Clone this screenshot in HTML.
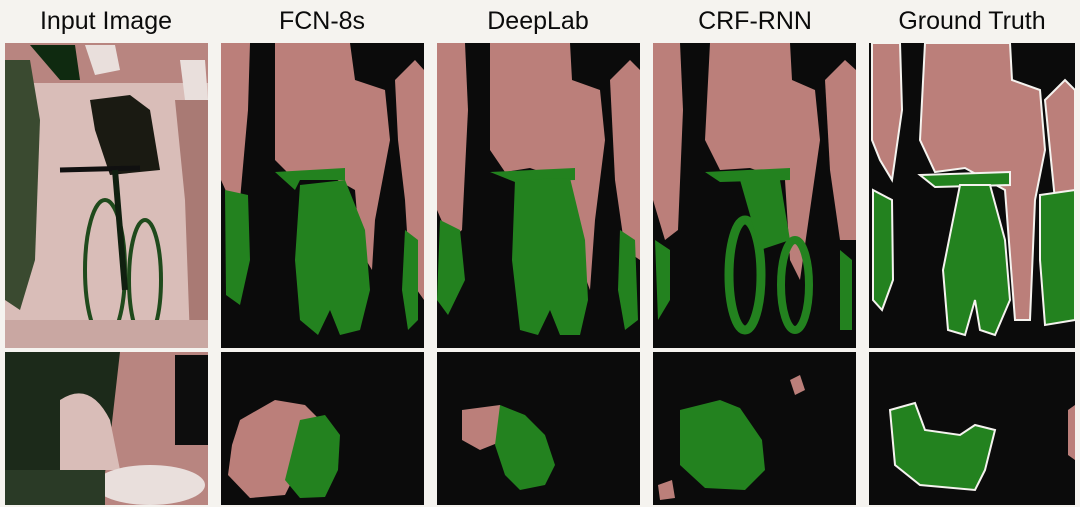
<!DOCTYPE html>
<html><head><meta charset="utf-8"><style>
html,body{margin:0;padding:0;background:#f5f3ef;}
svg{display:block;}
text{font-family:"Liberation Sans",sans-serif;font-size:25px;fill:#0b0b0b;}
</style></head><body>
<svg width="1080" height="507" viewBox="0 0 1080 507">
<rect width="1080" height="507" fill="#f5f3ef"/>
<g>
<text x="106" y="29" text-anchor="middle">Input Image</text>
<text x="322" y="29" text-anchor="middle">FCN-8s</text>
<text x="538" y="29" text-anchor="middle">DeepLab</text>
<text x="755" y="29" text-anchor="middle">CRF-RNN</text>
<text x="972" y="29" text-anchor="middle">Ground Truth</text>
</g>

<!-- Input image row 1 -->
<g>
<rect x="5" y="43" width="203" height="305" fill="#d9bdb8"/>
<rect x="5" y="43" width="203" height="40" fill="#b88580"/>
<path d="M30 45 L75 45 L80 80 L60 80 Z" fill="#0f2a10"/>
<path d="M5 60 L30 60 L40 120 L35 260 L20 310 L5 300 Z" fill="#3a4a30"/>
<path d="M90 100 L130 95 L150 110 L160 170 L110 175 L95 130 Z" fill="#1a1a12"/>
<path d="M85 45 L115 45 L120 70 L95 75 Z" fill="#e9dfdc"/>
<path d="M180 60 L205 60 L208 100 L185 100 Z" fill="#e9dfdc"/>
<path d="M175 100 L208 100 L208 340 L190 340 L185 200 Z" fill="#a97a74"/>
<ellipse cx="105" cy="270" rx="20" ry="70" fill="none" stroke="#1f4a1c" stroke-width="4"/>
<ellipse cx="145" cy="280" rx="16" ry="60" fill="none" stroke="#1f4a1c" stroke-width="4"/>
<path d="M60 170 L140 168" stroke="#101010" stroke-width="5"/>
<path d="M115 170 L125 290" stroke="#102010" stroke-width="6"/>
<rect x="5" y="320" width="203" height="28" fill="#c9a7a2"/>
</g>
<!-- Input image row 2 -->
<g>
<rect x="5" y="352" width="203" height="153" fill="#1c2a1a"/>
<path d="M120 352 L208 352 L208 505 L100 505 L110 440 Z" fill="#b88580"/>
<rect x="175" y="355" width="33" height="90" fill="#0d0d0d"/>
<path d="M60 400 Q90 380 110 420 L120 470 L60 470 Z" fill="#d9bdb8"/>
<ellipse cx="150" cy="485" rx="55" ry="20" fill="#e9dfdc"/>
<rect x="5" y="470" width="100" height="35" fill="#2a3a26"/>
</g>

<!-- FCN row1 -->
<g>
<rect x="221" y="43" width="203" height="305" fill="#0b0b0b"/>
<path d="M221 43 L250 43 L248 110 L240 200 L230 200 L221 180 Z" fill="#bb7f7a"/>
<path d="M275 43 L350 43 L355 80 L385 90 L390 140 L375 220 L372 270 L360 250 L355 190 L320 170 L290 175 L275 160 Z" fill="#bb7f7a"/>
<path d="M395 80 L415 60 L424 70 L424 300 L410 280 L405 200 L398 140 Z" fill="#bb7f7a"/>
<path d="M225 190 L248 195 L250 260 L240 305 L226 295 Z" fill="#23821f"/>
<path d="M275 172 L345 168 L345 180 L300 180 L295 190 Z" fill="#23821f"/>
<path d="M300 185 L345 180 L365 230 L370 290 L360 330 L340 335 L330 310 L318 335 L300 320 L295 260 Z" fill="#23821f"/>
<path d="M405 230 L418 240 L418 320 L408 330 L402 290 Z" fill="#23821f"/>
</g>
<!-- DeepLab row1 -->
<g>
<rect x="437" y="43" width="203" height="305" fill="#0b0b0b"/>
<path d="M437 43 L465 43 L468 110 L462 230 L450 240 L437 210 Z" fill="#bb7f7a"/>
<path d="M490 43 L570 43 L572 80 L600 90 L605 140 L595 220 L590 290 L575 250 L565 180 L530 168 L505 172 L490 150 Z" fill="#bb7f7a"/>
<path d="M610 80 L630 60 L640 70 L640 260 L625 250 L615 180 Z" fill="#bb7f7a"/>
<path d="M440 220 L460 230 L465 280 L448 315 L437 300 Z" fill="#23821f"/>
<path d="M490 172 L575 168 L575 180 L515 182 Z" fill="#23821f"/>
<path d="M515 180 L570 178 L585 240 L588 300 L580 335 L560 335 L550 310 L538 335 L520 330 L512 260 Z" fill="#23821f"/>
<path d="M620 230 L635 240 L638 320 L625 330 L618 290 Z" fill="#23821f"/>
</g>
<!-- CRF-RNN row1 -->
<g>
<rect x="653" y="43" width="203" height="305" fill="#0b0b0b"/>
<path d="M653 43 L680 43 L683 110 L678 230 L665 240 L653 200 Z" fill="#bb7f7a"/>
<path d="M710 43 L790 43 L792 80 L815 90 L820 140 L810 210 L800 280 L790 260 L785 180 L750 168 L720 170 L705 140 Z" fill="#bb7f7a"/>
<path d="M825 80 L845 60 L856 70 L856 240 L840 240 L830 170 Z" fill="#bb7f7a"/>
<path d="M705 172 L790 168 L790 180 L720 182 Z" fill="#23821f"/>
<ellipse cx="745" cy="275" rx="16" ry="55" fill="none" stroke="#23821f" stroke-width="9"/>
<ellipse cx="795" cy="285" rx="14" ry="45" fill="none" stroke="#23821f" stroke-width="8"/>
<path d="M740 180 L780 180 L790 240 L760 250 Z" fill="#23821f"/>
<path d="M655 240 L670 250 L670 300 L658 320 Z" fill="#23821f"/>
<path d="M840 250 L852 260 L852 330 L840 330 Z" fill="#23821f"/>
</g>
<!-- Ground truth row1 -->
<g>
<rect x="869" y="43" width="206" height="305" fill="#0b0b0b"/>
<path d="M872 43 L900 43 L902 110 L892 180 L880 160 L872 140 Z" fill="#bb7f7a" stroke="#f5f3ef" stroke-width="2"/>
<path d="M925 43 L1010 43 L1012 80 L1040 90 L1045 150 L1035 200 L1030 320 L1015 320 L1005 190 L965 168 L935 172 L920 140 Z" fill="#bb7f7a" stroke="#f5f3ef" stroke-width="2"/>
<path d="M1045 100 L1065 80 L1075 90 L1075 190 L1055 200 Z" fill="#bb7f7a" stroke="#f5f3ef" stroke-width="2"/>
<path d="M873 190 L892 200 L893 280 L882 310 L873 300 Z" fill="#23821f" stroke="#f5f3ef" stroke-width="2"/>
<path d="M920 175 L1010 172 L1010 185 L935 187 Z" fill="#23821f" stroke="#f5f3ef" stroke-width="2"/>
<path d="M960 185 L990 185 L1005 240 L1010 300 L995 335 L980 330 L975 300 L965 335 L948 330 L943 270 Z" fill="#23821f" stroke="#f5f3ef" stroke-width="2"/>
<path d="M1040 195 L1075 190 L1075 320 L1045 325 L1040 260 Z" fill="#23821f" stroke="#f5f3ef" stroke-width="2"/>
</g>

<!-- Row 2 results -->
<g>
<rect x="221" y="352" width="203" height="153" fill="#0b0b0b"/>
<path d="M240 420 L275 400 L305 405 L320 420 L300 465 L285 495 L250 498 L228 475 L232 445 Z" fill="#bb7f7a"/>
<path d="M300 420 L325 415 L340 435 L338 470 L325 497 L300 498 L285 480 Z" fill="#23821f"/>
</g>
<g>
<rect x="437" y="352" width="203" height="153" fill="#0b0b0b"/>
<path d="M462 410 L500 405 L505 440 L480 450 L462 440 Z" fill="#bb7f7a"/>
<path d="M500 405 L525 415 L545 435 L555 465 L545 485 L520 490 L505 475 L495 445 Z" fill="#23821f"/>
</g>
<g>
<rect x="653" y="352" width="203" height="153" fill="#0b0b0b"/>
<path d="M680 410 L720 400 L740 408 L762 440 L765 470 L745 490 L705 488 L680 465 Z" fill="#23821f"/>
<path d="M790 380 L800 375 L805 390 L795 395 Z" fill="#bb7f7a"/>
<path d="M658 485 L672 480 L675 498 L660 500 Z" fill="#bb7f7a"/>
</g>
<g>
<rect x="869" y="352" width="206" height="153" fill="#0b0b0b"/>
<path d="M890 410 L915 403 L925 430 L960 435 L975 425 L995 430 L985 470 L975 490 L920 485 L895 465 Z" fill="#23821f" stroke="#f5f3ef" stroke-width="2"/>
<path d="M1068 410 L1075 405 L1075 460 L1068 455 Z" fill="#bb7f7a"/>
</g>
</svg>
</body></html>
